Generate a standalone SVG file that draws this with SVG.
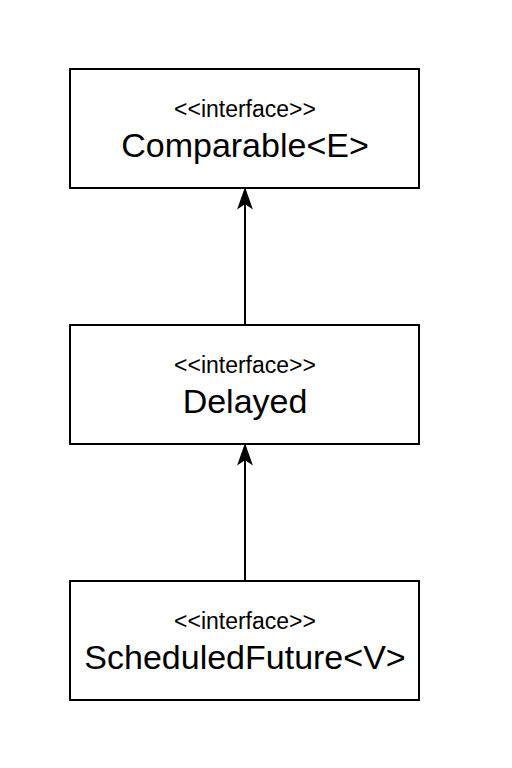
<svg xmlns="http://www.w3.org/2000/svg" width="512" height="768" viewBox="0 0 512 768">
<style>
.box{fill:#fff;stroke:#000;stroke-width:2}
.st{font-family:"Liberation Sans",Arial,sans-serif;font-size:23px;text-anchor:middle;fill:#000}
.nm{font-family:"Liberation Sans",Arial,sans-serif;font-size:34px;text-anchor:middle;fill:#000}
.edge{stroke:#000;stroke-width:2;fill:none}
.head{fill:#000;stroke:#000;stroke-width:2}
</style>
<rect width="512" height="768" fill="#fff"/>
<g id="edges">
<path class="edge" d="M245 325 L245 198"/>
<path class="head" d="M245 190 L251 207 L245 203 L239 207 Z"/>
<path class="edge" d="M245 581 L245 454"/>
<path class="head" d="M245 446 L251 463 L245 459 L239 463 Z"/>
</g>
<g id="comparable">
<rect class="box" x="70" y="69" width="349" height="119"/>
<text class="st" x="245" y="117">&lt;&lt;interface&gt;&gt;</text>
<text class="nm" x="245" y="157">Comparable&lt;E&gt;</text>
</g>
<g id="delayed">
<rect class="box" x="70" y="325" width="349" height="119"/>
<text class="st" x="245" y="373">&lt;&lt;interface&gt;&gt;</text>
<text class="nm" x="245" y="413">Delayed</text>
</g>
<g id="scheduledfuture">
<rect class="box" x="70" y="581" width="349" height="119"/>
<text class="st" x="245" y="629">&lt;&lt;interface&gt;&gt;</text>
<text class="nm" x="245" y="669">ScheduledFuture&lt;V&gt;</text>
</g>
</svg>
